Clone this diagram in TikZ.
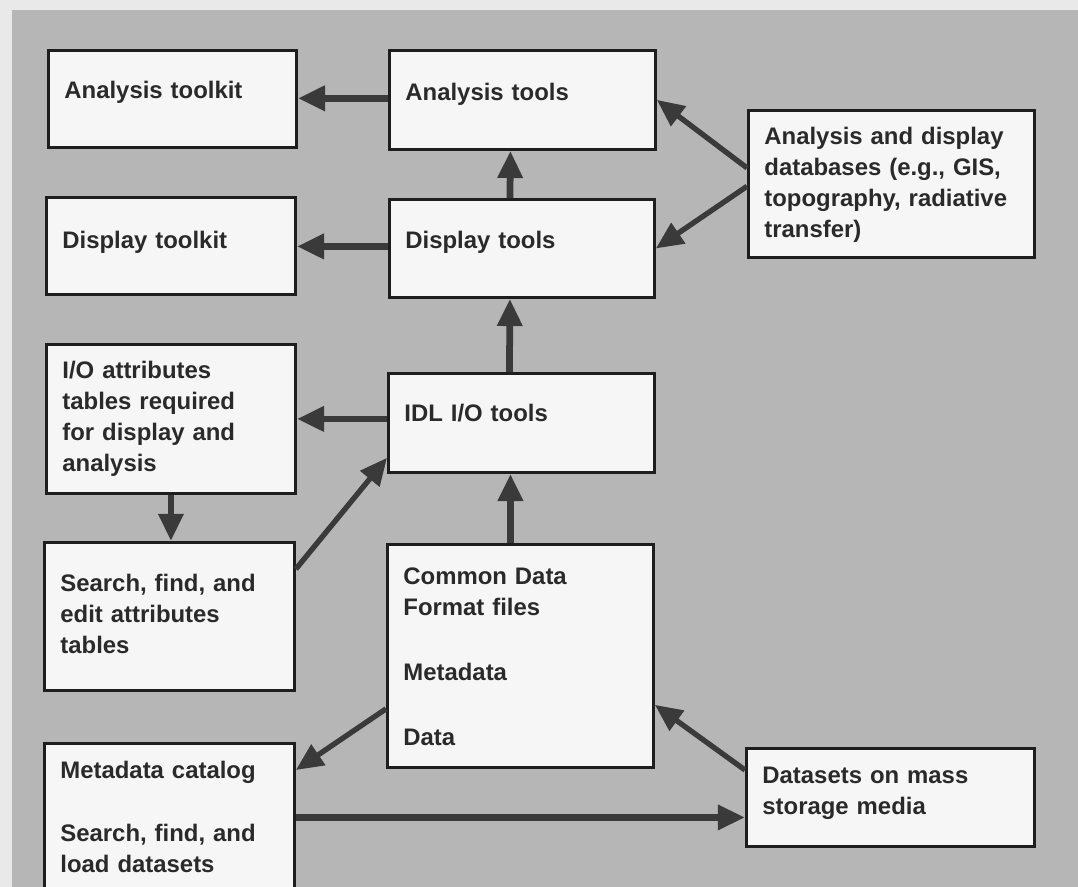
\documentclass[tikz,border=0pt]{standalone}
\usepackage{fontspec}
\setmainfont{Liberation Sans}
\usepackage{tikz}
\usetikzlibrary{arrows.meta}
\definecolor{paper}{HTML}{E9E9E9}
\definecolor{bggray}{HTML}{B6B6B6}
\definecolor{boxfill}{HTML}{F6F6F6}
\definecolor{boxline}{HTML}{1E1E1E}
\definecolor{arrowgray}{HTML}{3A3A3A}
\definecolor{txt}{HTML}{2A2A2A}

\begin{document}
\begin{tikzpicture}[x = 0.025cm, y = -0.025cm,
  box/.style = {draw = boxline, line width = 2pt, fill = boxfill, anchor = north west, align = left,
    inner xsep = 0.4cm, inner ysep = 0pt, text = txt, font = {\bfseries\fontsize{17}{22}\selectfont}},
  arr/.style = {draw = arrowgray, line width = 4.8pt, -{Triangle[length = 0.68cm, width = 0.6cm]}},
  diag/.style = {arr, line width = 3.8pt}]

  \useasboundingbox (0,0) rectangle (1078,887);
  \fill[paper] (0,0) rectangle (1078,887);
  \fill[bggray] (12,10) rectangle (1078,887);

  % left column
  \node[box, text width = 5.4cm, text height = 1.2cm, text depth = 1.225cm] (atk) at (47,49) {Analysis toolkit};
  \node[box, text width = 5.425cm, text height = 1.275cm, text depth = 1.15cm] (dtk) at (45,196) {Display toolkit};
  \node[box, text width = 5.425cm, text height = 0.85cm, text depth = 2.875cm] (ioa) at (45,343)
    {I/O attributes\\tables required\\for display and\\analysis};
  \node[box, text width = 5.45cm, text height = 1.225cm, text depth = 2.475cm] (sea) at (43,541)
    {Search, find, and\\edit attributes\\tables};
  \node[box, text width = 5.45cm, text height = 0.875cm, text depth = 2.95cm] (mdc) at (43,742)
    {Metadata catalog\\[0.8cm]Search, find, and\\load datasets};

  % middle column
  \node[box, text width = 5.85cm, text height = 1.25cm, text depth = 1.225cm] (ant) at (388,49) {Analysis tools};
  \node[box, text width = 5.825cm, text height = 1.225cm, text depth = 1.225cm] (dst) at (388,198) {Display tools};
  \node[box, text width = 5.85cm, text height = 1.2cm, text depth = 1.275cm] (idl) at (387,372) {IDL I/O tools};
  \node[box, text width = 5.85cm, text height = 1.0cm, text depth = 4.575cm] (cdf) at (386,543)
    {Common Data\\Format files\\[0.85cm]Metadata\\[0.85cm]Data};

  % right column
  \node[box, text width = 6.35cm, text height = 0.85cm, text depth = 2.825cm] (adb) at (747,109)
    {Analysis and display\\databases (e.g., GIS,\\topography, radiative\\transfer)};
  \node[box, text width = 6.4cm, text height = 0.875cm, text depth = 1.575cm] (dsm) at (745,747)
    {Datasets on mass\\storage media};

  % arrows
  \draw[arr] ([yshift = 0.04cm]ant.west) -- ([yshift = 0.04cm]ant.west -| atk.east);
  \draw[arr] ([yshift = 0.05cm]dst.west) -- ([yshift = 0.05cm]dst.west -| dtk.east);
  \draw[arr] ([yshift = 0.1cm]idl.west) -- ([yshift = 0.1cm]idl.west -| ioa.east);
  \draw[arr] ([xshift = -0.3cm]dst.north) -- ([xshift = -0.3cm]ant.south);
  \draw[arr] ([xshift = -0.3cm]idl.north) -- ([xshift = -0.3cm]dst.south);
  \draw[arr] ([xshift = -0.25cm]cdf.north) -- ([xshift = -0.25cm]cdf.north |- idl.south);
  \draw[arr] (ioa.south) -- (ioa.south |- sea.north);
  \draw[diag] ([yshift = -0.7cm]sea.north east) -- ([yshift = 0.4cm]idl.south west);
  \draw[diag] ([yshift = 1.5cm]cdf.south west) -- ([yshift = -0.7cm]mdc.north east);
  \draw[arr] ([yshift = -0.5cm]dsm.west -| mdc.east) -- ([yshift = -0.5cm]dsm.west);
  \draw[diag] ([yshift = -0.575cm]dsm.north west) -- ([yshift = 1.6cm]cdf.south east);
  \draw[diag] ([yshift = 0.4cm]adb.west) -- (ant.east);
  \draw[diag] ([yshift = -0.06cm]adb.west) -- (dst.east);
\end{tikzpicture}
\end{document}
